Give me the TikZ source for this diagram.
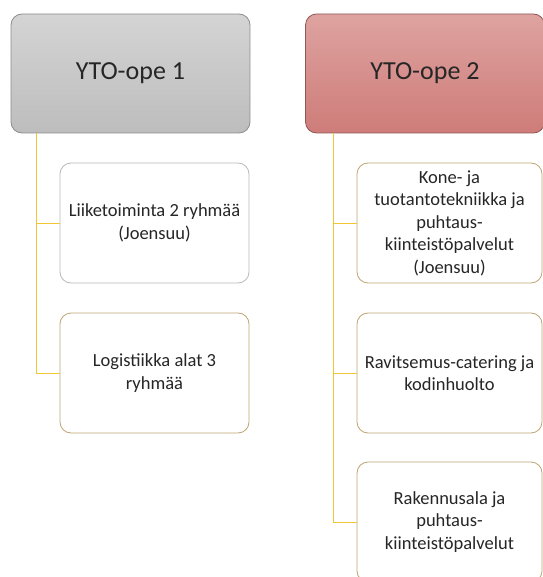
\documentclass[tikz,border=0pt]{standalone}
\usepackage{fontspec}
\setmainfont{Carlito}
\usetikzlibrary{positioning}
\definecolor{headgraytop}{HTML}{D4D4D4}
\definecolor{headgraybot}{HTML}{BDBDBD}
\definecolor{headredtop}{HTML}{DEA3A0}
\definecolor{headredbot}{HTML}{CE7C79}
\definecolor{branchgold}{HTML}{F0C637}
\definecolor{leafbrown}{HTML}{BFA473}
\definecolor{textdark}{HTML}{262626}
\tikzset{
  head/.style={draw,rounded corners=11pt,minimum width=239pt,minimum height=119pt,
    font=\fontsize{26}{30}\selectfont,text=textdark,line width=0.8pt},
  leaf/.style={draw=leafbrown,rounded corners=11pt,minimum height=120pt,
    align=center,font=\fontsize{18.5}{22.5}\selectfont,text=textdark,fill=white,line width=0.8pt},
  branch/.style={draw=branchgold,line width=0.9pt}
}

\begin{document}
\begin{tikzpicture}[x=1pt,y=1pt]
    \useasboundingbox (0,0) rectangle (542,-577);
    % headers
    \node[head,draw=gray!90,top color=headgraytop,bottom color=headgraybot]
      (ope1) at (130.5,-73.5) {YTO-ope 1};
    \node[head,draw=headredbot!70!black,top color=headredtop,bottom color=headredbot]
      (ope2) at (425,-73.5) {YTO-ope 2};
    % left column
    \node[leaf,draw=gray!55,minimum width=189pt] (liike) at (154.5,-223)
      {Liiketoiminta 2 ryhmää\\(Joensuu)};
    \node[leaf,minimum width=189pt] (logist) at (154.5,-373)
      {Logistiikka alat 3\\ryhmää};
    % right column
    \node[leaf,minimum width=185pt] (kone) at (449.5,-223)
      {Kone- ja\\tuotantotekniikka ja\\puhtaus-\\kiinteistöpalvelut\\(Joensuu)};
    \node[leaf,minimum width=185pt] (ravit) at (449.5,-373)
      {Ravitsemus-catering ja\\kodinhuolto};
    \node[leaf,minimum width=185pt] (raken) at (449.5,-522)
      {Rakennusala ja\\puhtaus-\\kiinteistöpalvelut};
    % connectors
    \coordinate (t1) at (36,-133);
    \coordinate (t2) at (333,-133);
    \draw[branch] (t1) |- (liike.west);
    \draw[branch] (t1) |- (logist.west);
    \draw[branch] (t2) |- (kone.west);
    \draw[branch] (t2) |- (ravit.west);
    \draw[branch] (t2) |- (raken.west);
\end{tikzpicture}
\end{document}
